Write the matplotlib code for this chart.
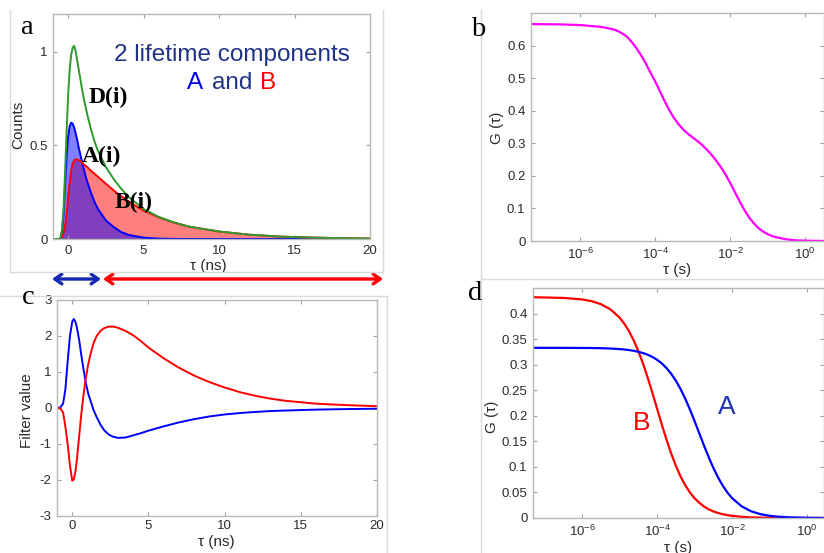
import numpy as np
import matplotlib
matplotlib.use("Agg")
import matplotlib.pyplot as plt
from matplotlib.lines import Line2D
from matplotlib.patches import FancyArrowPatch
from matplotlib.ticker import FixedLocator, NullLocator, FuncFormatter

plt.rcParams['font.family'] = ['Liberation Sans', 'DejaVu Sans']
plt.rcParams['mathtext.fontset'] = 'custom'
plt.rcParams['mathtext.rm'] = 'Liberation Sans'
plt.rcParams['mathtext.it'] = 'Liberation Sans:italic'
plt.rcParams['mathtext.bf'] = 'Liberation Sans:bold'
plt.rcParams['axes.unicode_minus'] = False

# ---------------- data ----------------
# panel a: lifetime decays (tau in ns)
tau_a = [-1, -0.6, -0.5, -0.4, -0.3, -0.2, -0.1, 0, 0.1, 0.2, 0.3, 0.4, 0.5, 0.6, 0.7, 0.8, 0.9,
         1.0, 1.25, 1.5, 1.75, 2.0, 2.5, 3.0, 3.5, 4.0, 5.0, 6.0, 7.0, 8.0, 10, 12, 14, 16, 18, 20]
counts_A = [0, 0, 0.005, 0.04, 0.13, 0.29, 0.44, 0.545, 0.60, 0.62, 0.615, 0.595, 0.565, 0.53,
            0.49, 0.455, 0.42, 0.385, 0.31, 0.25, 0.198, 0.157, 0.10, 0.065, 0.038, 0.022,
            0.007, 0.002, 0.0005, 0, 0, 0, 0, 0, 0, 0]
counts_B = [0, 0, 0.002, 0.012, 0.03, 0.07, 0.13, 0.22, 0.30, 0.36, 0.40, 0.42, 0.425, 0.425,
            0.42, 0.415, 0.408, 0.40, 0.385, 0.365, 0.348, 0.33, 0.295, 0.26, 0.23, 0.2, 0.152,
            0.116, 0.088, 0.066, 0.04, 0.023, 0.013, 0.008, 0.0045, 0.0026]
counts_D = [0, 0, 0.007, 0.05, 0.16, 0.36, 0.57, 0.765, 0.90, 0.98, 1.02, 1.03, 1.0, 0.955,
            0.905, 0.86, 0.81, 0.765, 0.67, 0.59, 0.52, 0.465, 0.385, 0.322, 0.27, 0.225, 0.16,
            0.118, 0.089, 0.066, 0.04, 0.023, 0.013, 0.008, 0.0045, 0.0026]

# panel b: total correlation (log10 of tau in s)
logtau_b = [-7.31, -6.5, -6, -5.5, -5.375, -5.25, -5.125, -5, -4.875, -4.75, -4.625, -4.5,
            -4.375, -4.25, -4.125, -4, -3.875, -3.75, -3.625, -3.5, -3.375, -3.25, -3.125, -3,
            -2.875, -2.75, -2.625, -2.5, -2.375, -2.25, -2.125, -2, -1.875, -1.75, -1.625, -1.5,
            -1.375, -1.25, -1.125, -1, -0.875, -0.75, -0.5, -0.25, 0, 0.5]
G_total = [0.666, 0.665, 0.663, 0.658, 0.656, 0.653, 0.650, 0.645, 0.637, 0.627, 0.611, 0.592,
           0.570, 0.545, 0.517, 0.490, 0.460, 0.430, 0.402, 0.378, 0.358, 0.342, 0.329, 0.318,
           0.307, 0.295, 0.281, 0.265, 0.247, 0.227, 0.204, 0.178, 0.150, 0.122, 0.096, 0.073,
           0.055, 0.040, 0.029, 0.021, 0.015, 0.011, 0.005, 0.002, 0.001, 0.0]

# panel c: filter functions (tau in ns)
tau_c = [-1, -0.8, -0.6, -0.45, -0.3, -0.15, 0, 0.1, 0.2, 0.3, 0.45, 0.6, 0.75, 0.9, 1.05, 1.2,
         1.4, 1.6, 1.85, 2.1, 2.4, 2.7, 3.0, 3.5, 4, 4.5, 5, 6, 7, 8, 9, 10, 11, 12, 13, 14, 16, 18, 20]
filter_A = [0, 0.01, 0.12, 0.52, 1.30, 2.0, 2.40, 2.47, 2.40, 2.25, 1.90, 1.45, 1.05, 0.68, 0.40,
            0.20, -0.06, -0.25, -0.46, -0.62, -0.74, -0.80, -0.83, -0.82, -0.76, -0.70, -0.63,
            -0.51, -0.40, -0.31, -0.235, -0.18, -0.14, -0.11, -0.085, -0.07, -0.045, -0.03, -0.02]
filter_B = [0, -0.01, -0.12, -0.52, -1.0, -1.6, -2.02, -1.98, -1.80, -1.45, -0.80, -0.15, 0.40,
            0.85, 1.22, 1.50, 1.80, 2.0, 2.14, 2.22, 2.26, 2.26, 2.23, 2.14, 2.02, 1.86, 1.68,
            1.38, 1.12, 0.90, 0.72, 0.57, 0.44, 0.34, 0.26, 0.20, 0.12, 0.08, 0.05]

# panel d: component correlations (log10 of tau in s)
logtau_d = [-7.31, -6.5, -6, -5.75, -5.5, -5.25, -5, -4.875, -4.75, -4.625, -4.5, -4.375, -4.25,
            -4.125, -4, -3.875, -3.75, -3.625, -3.5, -3.375, -3.25, -3.125, -3, -2.875, -2.75,
            -2.625, -2.5, -2.375, -2.25, -2.125, -2, -1.75, -1.5, -1.25, -1, -0.75, -0.5, 0, 0.5]
G_B = [0.432, 0.4306, 0.4276, 0.4243, 0.4184, 0.4085, 0.392, 0.380, 0.3655, 0.3476, 0.3264,
       0.3018, 0.2742, 0.2445, 0.2135, 0.1827, 0.1532, 0.1261, 0.1020, 0.0813, 0.0640, 0.0498,
       0.0385, 0.0297, 0.0225, 0.0170, 0.0129, 0.0098, 0.0074, 0.0056, 0.0042, 0.0024, 0.0013,
       0.0008, 0.0004, 0.0002, 0.0001, 0.0, 0.0]
G_A = [0.333, 0.3329, 0.3327, 0.3326, 0.3322, 0.3316, 0.3305, 0.3297, 0.3286, 0.3271, 0.3252,
       0.3227, 0.3194, 0.3151, 0.3095, 0.3024, 0.2934, 0.2822, 0.2686, 0.2523, 0.2334, 0.2122,
       0.1893, 0.1655, 0.1418, 0.1189, 0.0979, 0.0793, 0.0632, 0.0498, 0.0388, 0.0230, 0.0133,
       0.0076, 0.0043, 0.0024, 0.0014, 0.0004, 0.0001]

W, H = 824, 553
fig = plt.figure(figsize=(W / 100, H / 100), dpi=100)


def add_axes_px(left, top, right, bottom):
    return fig.add_axes([left / W, 1 - bottom / H, (right - left) / W, (bottom - top) / H])


SPINE = '#b8b8b8'
TICKC = '#2b2b2b'


def style(ax):
    for s in ax.spines.values():
        s.set_color(SPINE)
        s.set_linewidth(1.0)
    ax.tick_params(direction='in', length=3, width=0.8, color='#a0a0a0', labelcolor=TICKC,
                   labelsize=9.5, top=True, right=True, pad=4)
    ax.tick_params(which='minor', length=0)


def set_labels(ax, xl, yl, xpos, ypos):
    ax.set_xlabel(xl, fontsize=11, color=TICKC)
    ax.set_ylabel(yl, fontsize=11, color=TICKC)
    ax.xaxis.label.set_va('center')
    ax.yaxis.label.set_va('center')
    ax.xaxis.set_label_coords(*xpos)
    ax.yaxis.set_label_coords(*ypos)


gfmt = FuncFormatter(lambda v, p: '%g' % round(v, 3))
logfmt = FuncFormatter(lambda v, p: r'$10^{%d}$' % int(round(np.log10(v))))

# ---------- panel a ----------
axa = add_axes_px(53, 14, 370, 239)
axa.fill_between(tau_a, 0, counts_B, color='#ff0000', alpha=0.5, lw=0)
axa.fill_between(tau_a, 0, counts_A, color='#0000ff', alpha=0.5, lw=0)
axa.plot(tau_a, counts_A, color='#0000ff', lw=1.4)
axa.plot(tau_a, counts_B, color='#ff0000', lw=1.4)
axa.plot(tau_a, counts_D, color='#2e9a2e', lw=1.4)
axa.set_xlim(-1, 20)
axa.set_ylim(0, 1.2)
axa.set_xticks([0, 5, 10, 15, 20])
axa.set_yticks([0, 0.5, 1])
axa.yaxis.set_major_formatter(gfmt)
style(axa)
set_labels(axa, 'τ (ns)', 'Counts', (0.49, -0.12), (-0.11, 0.507))

navy = '#1f3287'
fig.text(232 / W, 1 - 55 / H, '2 lifetime components', fontsize=17.5, color=navy,
         ha='center', va='center')
fig.text(187 / W, 1 - 83 / H, 'A', fontsize=17.5, color='#0000e6', ha='left', va='center')
fig.text(212 / W, 1 - 83 / H, 'and', fontsize=17.5, color=navy, ha='left', va='center')
fig.text(260 / W, 1 - 83 / H, 'B', fontsize=17.5, color='#ff0000', ha='left', va='center')

serif = ['Liberation Serif', 'DejaVu Serif']
fig.text(89 / W, 1 - 97 / H, 'D(i)', fontsize=17, fontweight='bold', family=serif,
         ha='left', va='center', color='black')
fig.text(82 / W, 1 - 156 / H, 'A(i)', fontsize=17, fontweight='bold', family=serif,
         ha='left', va='center', color='black')
fig.text(115 / W, 1 - 202 / H, 'B(i)', fontsize=17, fontweight='bold', family=serif,
         ha='left', va='center', color='black')

# ---------- panel b ----------
axb = add_axes_px(531, 13, 824, 241)
axb.plot(10 ** np.array(logtau_b), G_total, color='#ff00ff', lw=1.6)
axb.set_xscale('log')
axb.set_xlim(10 ** -7.31, 10 ** 0.5)
axb.set_ylim(0, 0.7)
axb.xaxis.set_major_locator(FixedLocator([1e-6, 1e-4, 1e-2, 1e0]))
axb.xaxis.set_minor_locator(NullLocator())
axb.xaxis.set_major_formatter(logfmt)
axb.set_yticks([0, 0.1, 0.2, 0.3, 0.4, 0.5, 0.6])
axb.yaxis.set_major_formatter(gfmt)
style(axb)
set_labels(axb, 'τ (s)', 'G (τ)', (0.50, -0.127), (-0.116, 0.496))

# ---------- panel c ----------
axc = add_axes_px(57, 300, 377, 516)
axc.plot(tau_c, filter_A, color='#0000ff', lw=1.4)
axc.plot(tau_c, filter_B, color='#ff0000', lw=1.4)
axc.set_xlim(-1, 20)
axc.set_ylim(-3, 3)
axc.set_xticks([0, 5, 10, 15, 20])
axc.set_yticks([-3, -2, -1, 0, 1, 2, 3])
style(axc)
axc.tick_params(axis='x', pad=3)
set_labels(axc, 'τ (ns)', 'Filter value', (0.497, -0.12), (-0.094, 0.49))

# ---------- panel d ----------
axd = add_axes_px(533, 288, 824, 518)
axd.plot(10 ** np.array(logtau_d), G_B, color='#ff0000', lw=1.6)
axd.plot(10 ** np.array(logtau_d), G_A, color='#0000ff', lw=1.6)
axd.set_xscale('log')
axd.set_xlim(10 ** -7.31, 10 ** 0.45)
axd.set_ylim(0, 0.45)
axd.xaxis.set_major_locator(FixedLocator([1e-6, 1e-4, 1e-2, 1e0]))
axd.xaxis.set_minor_locator(NullLocator())
axd.xaxis.set_major_formatter(logfmt)
axd.set_yticks([0, 0.05, 0.1, 0.15, 0.2, 0.25, 0.3, 0.35, 0.4])
axd.yaxis.set_major_formatter(gfmt)
style(axd)
set_labels(axd, 'τ (s)', 'G (τ)', (0.498, -0.132), (-0.141, 0.44))
fig.text(727 / W, 1 - 407 / H, 'A', fontsize=19, color='#1f33b3', ha='center', va='center')
fig.text(642 / W, 1 - 423 / H, 'B', fontsize=19, color='#ff0000', ha='center', va='center')

# ---------- panel letters ----------
for ch, x, y in [('a', 27, 27), ('b', 478, 29), ('c', 28, 297), ('d', 475, 294)]:
    fig.text(x / W, 1 - y / H, ch, fontsize=20.5, family=serif, ha='center', va='center',
             color='black')

# ---------- frame lines of the original sub-figures ----------
FR = '#dadada'


def fline(x0, y0, x1, y1):
    fig.add_artist(Line2D([x0 / W, x1 / W], [1 - y0 / H, 1 - y1 / H], color=FR, lw=1.0,
                          transform=fig.transFigure))


fline(9.5, 10, 9.5, 272)
fline(9.5, 272, 383, 272)
fline(383, 10, 383, 272)
fline(480.5, 10, 480.5, 553)
fline(480.5, 279, 824, 279)
fline(0, 296, 387, 296)
fline(387, 296, 387, 553)

# ---------- range arrows ----------
fig.add_artist(FancyArrowPatch(
    (52 / W, 1 - 279 / H), (101 / W, 1 - 279 / H), transform=fig.transFigure,
    arrowstyle='<->,head_length=5,head_width=3.5', color='#1428b4', lw=2.4,
    shrinkA=0, shrinkB=0))
fig.add_artist(FancyArrowPatch(
    (103 / W, 1 - 279 / H), (383 / W, 1 - 279 / H), transform=fig.transFigure,
    arrowstyle='<->,head_length=5,head_width=3.5', color='#ff0000', lw=2.4,
    shrinkA=0, shrinkB=0))

fig.savefig('out.png', dpi=100)
